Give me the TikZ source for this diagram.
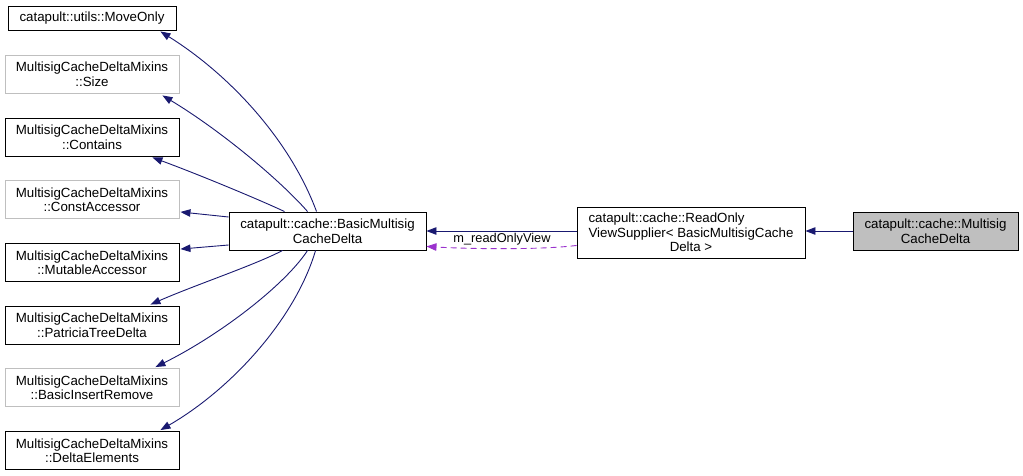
\documentclass[tikz,border=0pt]{standalone}
\usepackage{fontspec}
\setmainfont{Liberation Sans}
\usetikzlibrary{arrows.meta,calc}
\definecolor{edgeblue}{HTML}{191970}
\definecolor{edgepurple}{HTML}{9A32CD}
\definecolor{boxgray}{HTML}{BFBFBF}
\begin{document}
\begin{tikzpicture}[x=1pt,y=-1pt,
  box/.style={draw=black,line width=0.9pt,fill=white,align=center,inner sep=0pt,
    font=\fontsize{13.3}{14.5}\selectfont},
  graybox/.style={box,draw=boxgray},
  leftbox/.style={minimum width=174pt,minimum height=38pt},
  inh/.style={draw=edgeblue,line width=0.9pt,-{Triangle[length=10pt,width=7.5pt]}},
  usage/.style={draw=edgepurple,line width=0.9pt,dash pattern=on 6pt off 4pt,
    -{Triangle[length=10pt,width=7.5pt]}},
  lbl/.style={font=\fontsize{12.8}{14}\selectfont,inner sep=0pt}
]
\useasboundingbox (0,0) rectangle (1023,475);

\node[box,minimum width=168pt,minimum height=24pt] (moveonly) at (92,18) {catapult::utils::MoveOnly};
\node[graybox,leftbox] (size) at (92,74) {MultisigCacheDeltaMixins\\::Size};
\node[box,leftbox] (contains) at (92,137) {MultisigCacheDeltaMixins\\::Contains};
\node[graybox,leftbox] (constacc) at (92,199.5) {MultisigCacheDeltaMixins\\::ConstAccessor};
\node[box,leftbox] (mutacc) at (92,262.5) {MultisigCacheDeltaMixins\\::MutableAccessor};
\node[box,leftbox] (patricia) at (92,325) {MultisigCacheDeltaMixins\\::PatriciaTreeDelta};
\node[graybox,leftbox] (basicins) at (92,387.5) {MultisigCacheDeltaMixins\\::BasicInsertRemove};
\node[box,leftbox] (deltael) at (92,450.5) {MultisigCacheDeltaMixins\\::DeltaElements};

\node[box,minimum width=197pt,minimum height=38pt] (basic) at (327.5,231) {catapult::cache::BasicMultisig\\CacheDelta};
\node[box,minimum width=228pt,minimum height=51pt] (readonly) at (691,232.5)
  {\rlap{catapult::cache::ReadOnly}\phantom{ViewSupplier< BasicMultisigCache}\\ViewSupplier< BasicMultisigCache\\Delta >};
\node[box,fill=boxgray,minimum width=165pt,minimum height=38pt] (multisig) at (935.5,231) {catapult::cache::Multisig\\CacheDelta};

% inheritance edges
\draw[inh] ($(basic.north west)+(88,0)$) .. controls (290,140) and (230,75) .. ($(moveonly.south east)+(-16,1)$);
\draw[inh] ($(basic.north west)+(79,0)$) .. controls (280,180) and (220,130) .. ($(size.south east)+(-17,2)$);
\draw[inh] ($(basic.north west)+(56,0)$) .. controls (260,200) and (200,175) .. ($(contains.south east)+(-27,1)$);
\draw[inh] ($(basic.west)+(0,-14)$) -- ($(constacc.south east)+(1,-7)$);
\draw[inh] ($(basic.west)+(0,14)$) -- ($(mutacc.north east)+(1,6)$);
\draw[inh] ($(basic.south west)+(54,0)$) .. controls (255,265) and (195,285) .. ($(patricia.north east)+(-29,-1)$);
\draw[inh] ($(basic.south west)+(79,0)$) .. controls (285,285) and (220,335) .. ($(basicins.north east)+(-24,-1)$);
\draw[inh] ($(basic.south west)+(87,0)$) .. controls (295,320) and (230,390) .. ($(deltael.north east)+(-19,-1)$);

\draw[inh] (readonly.west |- basic.east) -- (basic.east);
\draw[inh] (multisig.west) -- (readonly.east |- multisig.west);

% usage edge
\draw[usage] ($(readonly.south west)+(0,-13)$) .. controls (540,250) and (470,249) .. ($(basic.south east)+(0,-4)$);
\node[lbl] (lab) at (502,239) {m\_readOnlyView};
\end{tikzpicture}
\end{document}
